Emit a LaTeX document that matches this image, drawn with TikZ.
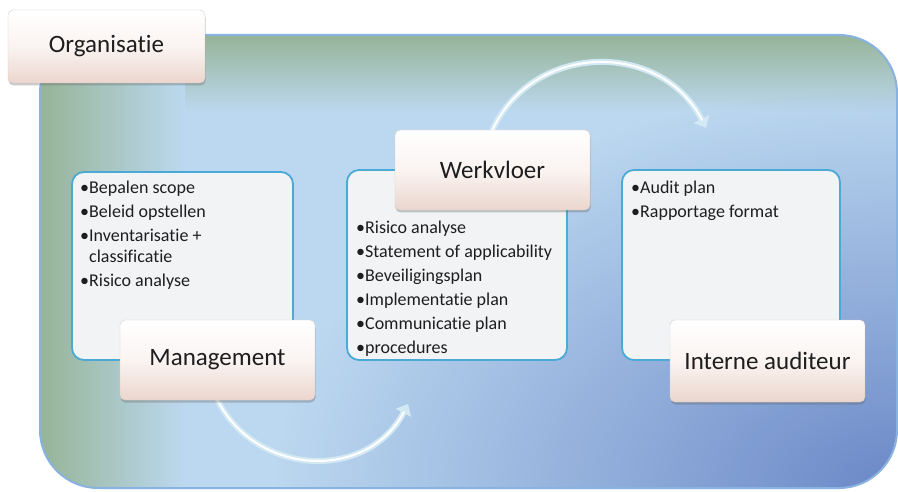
\documentclass[tikz,border=0pt]{standalone}
\usepackage{fontspec}
\setmainfont{Carlito}[Ligatures=NoCommon]
\usetikzlibrary{arrows.meta,shadows,fadings}

\definecolor{orgbase}{HTML}{BCD8F0}
\definecolor{orggreen}{HTML}{96B497}
\definecolor{orgpale}{HTML}{DEDFE8}
\definecolor{orgdeep}{HTML}{6B88C8}
\definecolor{orgline}{HTML}{88B2DF}
\definecolor{taskfill}{HTML}{F1F3F5}
\definecolor{taskline}{HTML}{4AAAD5}
\definecolor{labelpink}{HTML}{EBD6CD}
\definecolor{labelmid}{HTML}{FAF4F2}
\definecolor{labeledge}{HTML}{D6CCC8}
\definecolor{ink}{HTML}{1E1E1E}
\definecolor{arrowbody}{HTML}{D2E9F4}

\pgfdeclarelayer{back}
\pgfdeclarelayer{mid}
\pgfsetlayers{back,mid,main}

% darker blue glow towards the lower right corner
\tikzfading[name=cornerglow, inner color=transparent!0, outer color=transparent!100]

\tikzset{
  taskbox/.style={draw=taskline, line width=1.8pt, fill=taskfill,
    rounded corners=12pt, inner sep=0pt},
  labelbox/.style={top color=white, bottom color=labelpink, middle color=labelmid,
    draw=labeledge, line width=0.4pt, rounded corners=5pt,
    drop shadow={shadow xshift=0.5pt, shadow yshift=-2.5pt, opacity=0.35, fill=black!60},
    font=\fontsize{25}{30}\selectfont, text=ink, inner sep=0pt},
  itemlist/.style={align=left, anchor=north west, inner sep=0pt,
    font=\fontsize{18}{24}\selectfont, text=ink},
  flowbody/.style={line width=6pt, color=arrowbody, line cap=round,
    -{Triangle[length=10pt, width=17pt]}},
  flowshine/.style={line width=2pt, color=white, line cap=round, shorten >=9pt},
}

\begin{document}
\begin{tikzpicture}[x=1pt, y=-1pt]
\useasboundingbox (0,0) rectangle (898,492);

% task boxes
\node[taskbox, minimum width=221pt, minimum height=188pt] (mgmtbox) at (182.5,266) {};
\node[taskbox, minimum width=220pt, minimum height=190pt] (werkbox) at (457,265) {};
\node[taskbox, minimum width=218pt, minimum height=190pt] (auditbox) at (731,265) {};

% item lists
\node[itemlist] (mgmtlist) at (80,181) {%
  •Bepalen scope\\
  •Beleid opstellen\\
  •Inventarisatie +\\[-3pt]
  \phantom{•}classificatie\\
  •Risico analyse};
\node[itemlist] (werklist) at (356,221) {%
  •Risico analyse\\
  •Statement of applicability\\
  •Beveiligingsplan\\
  •Implementatie plan\\
  •Communicatie plan\\
  •procedures};
\node[itemlist] (auditlist) at (631,181) {%
  •Audit plan\\
  •Rapportage format};

% role labels
\node[labelbox, minimum width=197pt, minimum height=73pt] (orglabel) at (106.5,46.5) {Organisatie};
\node[labelbox, minimum width=195pt, minimum height=80pt] (mgmtlabel) at (217.5,360) {Management};
\node[labelbox, minimum width=195pt, minimum height=80pt] (werklabel) at (492.5,170) {Werkvloer};
\node[labelbox, minimum width=195pt, minimum height=82pt] (auditlabel) at (767.5,361) {Interne auditeur};

\coordinate (mgmtend) at (408,404);
\coordinate (werkend) at (706,128);

% organisation container
\begin{pgfonlayer}{back}
  \fill[orgbase, rounded corners=58pt] (40,35) rectangle (897,488);
  \begin{scope}
    \clip[rounded corners=58pt] (40,35) rectangle (897,488);
    \shade[top color=orggreen, middle color=orgpale, bottom color=orgbase]
      (40,35) rectangle (897,112);
    \shade[left color=orggreen, middle color=orgpale, right color=orgbase]
      (40,35) rectangle (185,488);
    \fill[orgdeep, path fading=cornerglow] (897,488) ellipse [x radius=620pt, y radius=400pt];
  \end{scope}
  \draw[orgline, line width=2pt, rounded corners=58pt] (40,35) rectangle (897,488);
\end{pgfonlayer}

% curved flow arrows
\begin{pgfonlayer}{mid}
  \draw[flowbody] (mgmtlabel.south) .. controls (257,477) and (368,481) .. (mgmtend);
  \draw[flowshine] (mgmtlabel.south) .. controls (257,477) and (368,481) .. (mgmtend);
  \draw[flowbody] (werklabel.north) .. controls (534,41) and (662,41) .. (werkend);
  \draw[flowshine] (werklabel.north) .. controls (534,41) and (662,41) .. (werkend);
\end{pgfonlayer}
\end{tikzpicture}
\end{document}
